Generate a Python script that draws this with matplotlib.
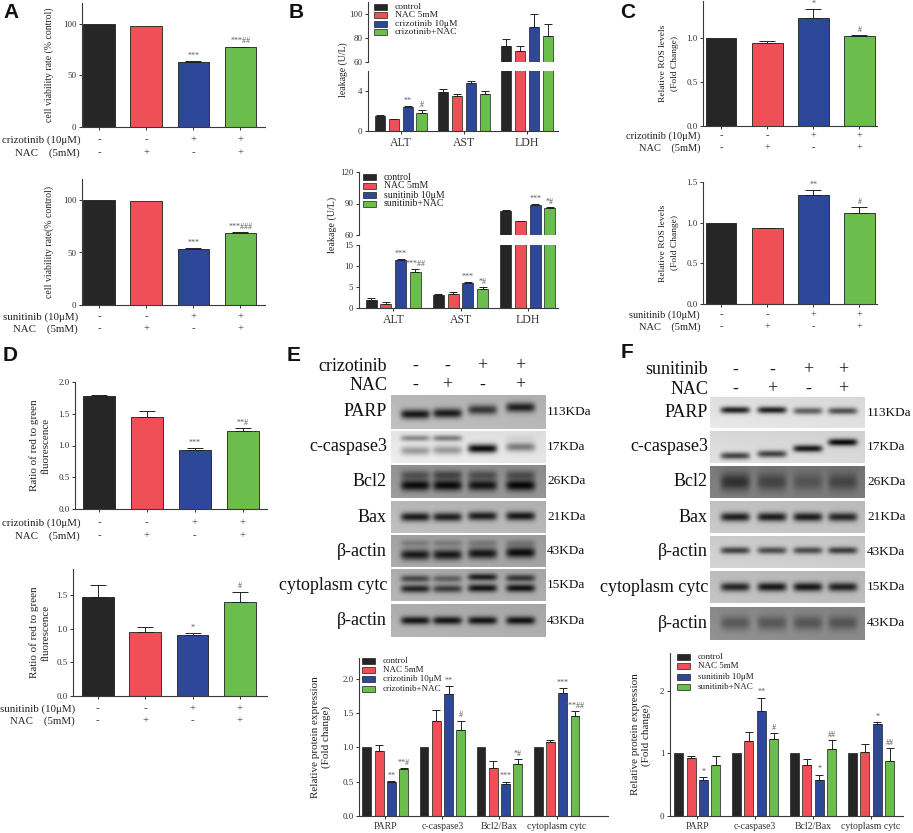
import numpy as np
import matplotlib
matplotlib.use('Agg')
import matplotlib.pyplot as plt
import matplotlib.transforms as mtransforms
from matplotlib.patches import Rectangle

plt.rcParams['font.family'] = ['Liberation Serif', 'DejaVu Serif']

W, H = 913, 833
fig = plt.figure(figsize=(W / 100, H / 100), dpi=100)

# ------------------------------------------------------------------ data
COND_DRUG = ['-', '-', '+', '+']
COND_NAC = ['-', '+', '-', '+']
C4 = ['#262626', '#EF5058', '#2D4898', '#6BBE4B']

# A: cell viability
A_criz_vals = [100, 97.5, 63, 77.5]
A_criz_err = [0, 0, 0.4, 0.4]
A_criz_sig = ['', '', '***', '***##']
A_sun_vals = [100, 99, 53.5, 69]
A_sun_err = [0, 0, 0.4, 0.4]
A_sun_sig = ['', '', '***', '***###']

# B: leakage
B_cats = ['ALT', 'AST', 'LDH']
B_criz_legend = ['control', 'NAC 5mM', 'crizotinib 10μM', 'crizotinib+NAC']
B_criz_ctrl = [1.55, 3.9, 73]
B_criz_ctrl_err = [0.05, 0.35, 6]
B_criz_nac = [1.2, 3.5, 69]
B_criz_nac_err = [0.05, 0.25, 4.5]
B_criz_drug = [2.4, 4.8, 89]
B_criz_drug_err = [0.12, 0.2, 11]
B_criz_combo = [1.85, 3.7, 82]
B_criz_combo_err = [0.25, 0.35, 10]
B_criz_drug_sig = ['**', '', '']
B_criz_combo_sig = ['#', '', '']

B_sun_legend = ['control', 'NAC 5mM', 'sunitinib 10μM', 'sunitinib+NAC']
B_sun_ctrl = [2.0, 3.0, 83]
B_sun_ctrl_err = [0.3, 0.25, 0.5]
B_sun_nac = [1.0, 3.4, 73]
B_sun_nac_err = [0.5, 0.35, 0.5]
B_sun_drug = [11.4, 6.0, 88.5]
B_sun_drug_err = [0.3, 0.15, 0.8]
B_sun_combo = [8.5, 4.6, 86]
B_sun_combo_err = [0.8, 0.4, 0.5]
B_sun_drug_sig = ['***', '***', '***']
B_sun_combo_sig = ['***##', '*#', '*#']

# C: ROS
C_criz_vals = [1.0, 0.94, 1.23, 1.02]
C_criz_err = [0, 0.02, 0.10, 0.01]
C_criz_sig = ['', '', '*', '#']
C_sun_vals = [1.0, 0.93, 1.34, 1.12]
C_sun_err = [0, 0.01, 0.06, 0.07]
C_sun_sig = ['', '', '**', '#']

# D: red/green fluorescence
D_criz_vals = [1.78, 1.45, 0.93, 1.23]
D_criz_err = [0.02, 0.10, 0.03, 0.04]
D_criz_sig = ['', '', '***', '**#']
D_sun_vals = [1.47, 0.95, 0.91, 1.40]
D_sun_err = [0.18, 0.07, 0.03, 0.15]
D_sun_sig = ['', '', '*', '#']

# E / F: protein expression
P_cats = ['PARP', 'c-caspase3', 'Bcl2/Bax', 'cytoplasm cytc']
E_legend = ['control', 'NAC 5mM', 'crizotinib 10μM', 'crizotinib+NAC']
E_ctrl = [1.0, 1.0, 1.0, 1.0]
E_ctrl_err = [0, 0, 0, 0]
E_nac = [0.94, 1.38, 0.70, 1.08]
E_nac_err = [0.09, 0.16, 0.10, 0.02]
E_drug = [0.49, 1.77, 0.46, 1.79]
E_drug_err = [0.02, 0.12, 0.04, 0.07]
E_combo = [0.69, 1.25, 0.76, 1.46]
E_combo_err = [0.01, 0.14, 0.07, 0.07]
E_drug_sig = ['**', '**', '***', '***']
E_combo_sig = ['**#', '#', '*#', '***##']

F_legend = ['control', 'NAC 5mM', 'sunitinib 10μM', 'sunitinib+NAC']
F_ctrl = [1.0, 1.0, 1.0, 1.0]
F_ctrl_err = [0, 0, 0, 0]
F_nac = [0.92, 1.19, 0.81, 1.02]
F_nac_err = [0.04, 0.15, 0.10, 0.13]
F_drug = [0.58, 1.67, 0.58, 1.47]
F_drug_err = [0.04, 0.22, 0.08, 0.03]
F_combo = [0.81, 1.23, 1.07, 0.88]
F_combo_err = [0.15, 0.09, 0.14, 0.20]
F_drug_sig = ['*', '**', '*', '*']
F_combo_sig = ['', '#', '##', '##']

# Western blot rows: label, size, background, band layers (y, amplitudes per lane, sigma)
BLOT_LABELS = ['PARP', 'c-caspase3', 'Bcl2', 'Bax', 'β-actin', 'cytoplasm cytc', 'β-actin']
BLOT_SIZES = ['113KDa', '17KDa', '26KDa', '21KDa', '43KDa', '15KDa', '43KDa']
E_blot_bg = [0.72, 0.90, 0.58, 0.72, 0.64, 0.68, 0.68]
E_blot_bands = [
    [([0.58, 0.55, 0.45, 0.38], [0.64, 0.62, 0.50, 0.58], 0.10)],
    [([0.22, 0.22, 0.22, 0.22], [0.35, 0.40, 0.00, 0.05], 0.07),
     ([0.62, 0.60, 0.55, 0.50], [0.30, 0.30, 0.85, 0.40], 0.10)],
    [([0.30, 0.30, 0.30, 0.30], [0.25, 0.30, 0.25, 0.25], 0.10),
     ([0.62, 0.62, 0.62, 0.62], [0.55, 0.55, 0.50, 0.55], 0.12)],
    [([0.50, 0.50, 0.47, 0.47], [0.62, 0.60, 0.60, 0.62], 0.10)],
    [([0.25, 0.25, 0.25, 0.25], [0.15, 0.15, 0.15, 0.15], 0.08),
     ([0.62, 0.62, 0.58, 0.55], [0.55, 0.55, 0.55, 0.58], 0.12)],
    [([0.30, 0.30, 0.25, 0.28], [0.40, 0.30, 0.55, 0.45], 0.08),
     ([0.62, 0.62, 0.60, 0.60], [0.55, 0.45, 0.60, 0.60], 0.09)],
    [([0.50, 0.50, 0.50, 0.50], [0.60, 0.60, 0.60, 0.60], 0.09)],
]
F_blot_bg = [0.88, 0.85, 0.48, 0.76, 0.80, 0.74, 0.54]
F_blot_bands = [
    [([0.42, 0.42, 0.45, 0.45], [0.75, 0.75, 0.50, 0.55], 0.08)],
    [([0.78, 0.72, 0.55, 0.35], [0.60, 0.60, 0.75, 0.80], 0.08)],
    [([0.50, 0.50, 0.50, 0.50], [0.30, 0.22, 0.15, 0.20], 0.20)],
    [([0.50, 0.50, 0.50, 0.50], [0.65, 0.65, 0.65, 0.60], 0.10)],
    [([0.45, 0.45, 0.45, 0.45], [0.55, 0.50, 0.50, 0.55], 0.08)],
    [([0.50, 0.50, 0.50, 0.50], [0.60, 0.65, 0.65, 0.60], 0.10)],
    [([0.50, 0.50, 0.50, 0.50], [0.20, 0.20, 0.20, 0.20], 0.15)],
]


# ------------------------------------------------------------------ helpers
def ax_px(x0, y0, x1, y1):
    return fig.add_axes([x0 / W, 1 - y1 / H, (x1 - x0) / W, (y1 - y0) / H])


def style(ax, spines=('left', 'bottom'), labelsize=6.5):
    for s in ['top', 'right', 'left', 'bottom']:
        ax.spines[s].set_visible(s in spines)
        ax.spines[s].set_linewidth(0.8)
        ax.spines[s].set_color('#3a3a3a')
    ax.tick_params(direction='out', length=2.5, width=0.7, labelsize=labelsize,
                   colors='#333333', pad=1.5)
    ax.patch.set_alpha(0)


def fy(ypx):
    return 1 - ypx / H


def err_up(ax, x, v, e, cap, lw=0.7):
    if e > 0:
        ax.errorbar([x], [v], yerr=[[0], [e]], fmt='none', ecolor='#222222',
                    elinewidth=lw, capsize=cap, capthick=lw, zorder=3)


def sig_text(ax, x, top, s, fs=5.8):
    if s:
        ax.annotate(s, xy=(x, top), xytext=(0, 1.0), textcoords='offset points',
                    ha='center', va='bottom', fontsize=fs, color='#555555',
                    annotation_clip=False)


def cond_panel(box, vals, errs, sigs, ylim, yticks, yticklabels, xlim,
               ylabel, ylab_x, ylab_fs, ylab_ls, drug_label, rows_y, label_right_x,
               cond_fs=7.8, cap=6):
    ax = ax_px(*box)
    x = np.arange(4)
    ax.bar(x, vals, width=0.67, color=C4, edgecolor='#1e1e1e', linewidth=0.6, zorder=2)
    for i in range(4):
        err_up(ax, x[i], vals[i], errs[i], cap)
        sig_text(ax, x[i], vals[i] + errs[i], sigs[i])
    ax.set_xlim(*xlim)
    ax.set_ylim(*ylim)
    ax.set_yticks(yticks)
    ax.set_yticklabels(yticklabels)
    ax.set_xticks(x)
    ax.set_xticklabels([])
    style(ax)
    tr = mtransforms.blended_transform_factory(ax.transData, fig.transFigure)
    for i in range(4):
        ax.text(x[i], fy(rows_y[0]), COND_DRUG[i], transform=tr, ha='center', va='center',
                fontsize=cond_fs, color='#333333')
        ax.text(x[i], fy(rows_y[1]), COND_NAC[i], transform=tr, ha='center', va='center',
                fontsize=cond_fs, color='#333333')
    fig.text(label_right_x / W, fy(rows_y[0]), drug_label, ha='right', va='center',
             fontsize=cond_fs, color='#222222')
    fig.text(label_right_x / W, fy(rows_y[1]), 'NAC    (5mM)', ha='right', va='center',
             fontsize=cond_fs, color='#222222')
    cy = (box[1] + box[3]) / 2
    fig.text(ylab_x / W, fy(cy), ylabel, rotation=90, ha='center', va='center',
             fontsize=ylab_fs, color='#222222', multialignment='center', linespacing=ylab_ls)
    return ax


def manual_legend(x_patch, y_rows, labels, fs, pw=13, ph=5.5, gap=8):
    for k, lab in enumerate(labels):
        y = y_rows[k]
        fig.patches.append(Rectangle((x_patch / W, fy(y + ph / 2)), pw / W, ph / H,
                                     transform=fig.transFigure, facecolor=C4[k],
                                     edgecolor='#1e1e1e', linewidth=0.5))
        fig.text((x_patch + pw + gap) / W, fy(y), lab, ha='left', va='center',
                 fontsize=fs, color='#222222')


def broken_panel(x0, x1, up_y, lo_y, up_lim, lo_lim, up_ticks, lo_ticks,
                 series, errs, sigs, xlim, ylabel, ylab_xy, ylab_fs, cat_fs):
    axu = ax_px(x0, up_y[0], x1, up_y[1])
    axl = ax_px(x0, lo_y[0], x1, lo_y[1])
    xc = np.arange(len(B_cats))
    offs = (np.arange(4) - 1.5) * 0.22
    for ax in (axu, axl):
        for k in range(4):
            ax.bar(xc + offs[k], series[k], width=0.165, color=C4[k],
                   edgecolor='#1e1e1e', linewidth=0.5, zorder=2)
            for j in range(len(xc)):
                err_up(ax, xc[j] + offs[k], series[k][j], errs[k][j], 3.2)
        ax.set_xlim(*xlim)
    for k in range(4):
        for j in range(len(xc)):
            s = sigs[k][j]
            top = series[k][j] + errs[k][j]
            sig_text(axu if top > lo_lim[1] else axl, xc[j] + offs[k], top, s)
    axu.set_ylim(*up_lim)
    axl.set_ylim(*lo_lim)
    axu.set_yticks(up_ticks)
    axl.set_yticks(lo_ticks)
    axu.set_xticks([])
    axl.set_xticks(xc)
    axl.set_xticklabels(B_cats)
    style(axu, spines=('left',))
    style(axl)
    axl.tick_params(axis='x', labelsize=cat_fs, pad=2)
    fig.text(ylab_xy[0] / W, fy(ylab_xy[1]), ylabel, rotation=90, ha='center',
             va='center', fontsize=ylab_fs, color='#222222')
    return axu, axl


def group_panel(box, series, errs, sigs, ylim, yticks, yticklabels, xlim, ylab_x):
    ax = ax_px(*box)
    xc = np.arange(len(P_cats))
    offs = (np.arange(4) - 1.5) * 0.215
    for k in range(4):
        ax.bar(xc + offs[k], series[k], width=0.155, color=C4[k],
               edgecolor='#1e1e1e', linewidth=0.5, zorder=2)
        for j in range(len(xc)):
            err_up(ax, xc[j] + offs[k], series[k][j], errs[k][j], 2.8)
            if sigs[k] is not None:
                sig_text(ax, xc[j] + offs[k], series[k][j] + errs[k][j], sigs[k][j])
    ax.set_xlim(*xlim)
    ax.set_ylim(*ylim)
    ax.set_yticks(yticks)
    ax.set_yticklabels(yticklabels)
    ax.set_xticks(xc)
    ax.set_xticklabels(P_cats)
    style(ax)
    ax.tick_params(axis='x', labelsize=7, pad=1.5)
    cy = (box[1] + box[3]) / 2
    fig.text(ylab_x / W, fy(cy), 'Relative protein expression\n(Fold change)',
             rotation=90, ha='center', va='center', fontsize=8, color='#222222',
             multialignment='center', linespacing=1.25)
    return ax


def blot_row(x0, x1, y0, y1, lanes_px, bg, layers, hw=0.095):
    ax = ax_px(x0, y0, x1, y1)
    h, w = 60, 220
    yy, xx = np.mgrid[0:1:h * 1j, 0:1:w * 1j]
    img = np.full((h, w), bg) + 0.04 * (yy - 0.5) - 0.03 * (xx - 0.5)
    lane_fr = [(lx - x0) / (x1 - x0) for lx in lanes_px]
    for ypos, amps, sig in layers:
        for i, lf in enumerate(lane_fr):
            px = np.exp(-((xx - lf) / hw) ** 6)
            py = np.exp(-0.5 * ((yy - ypos[i]) / sig) ** 2)
            img = img - amps[i] * px * py
    img = np.clip(img, 0, 1)
    ax.imshow(img, cmap='gray', vmin=0, vmax=1, aspect='auto', extent=[0, 1, 1, 0],
              interpolation='bilinear')
    ax.set_xticks([])
    ax.set_yticks([])
    for s in ax.spines.values():
        s.set_visible(False)
    return ax


def blot_panel(x0, x1, rows_y, lanes_px, bgs, bands, drug, drug_y, nac_y, label_right, size_x):
    for r in range(len(rows_y)):
        y0, y1 = rows_y[r]
        blot_row(x0, x1, y0, y1, lanes_px, bgs[r], bands[r])
        cy = (y0 + y1) / 2
        fig.text(label_right / W, fy(cy), BLOT_LABELS[r], ha='right', va='center',
                 fontsize=13, color='#111111')
        fig.text(size_x / W, fy(cy), BLOT_SIZES[r], ha='left', va='center',
                 fontsize=9.5, color='#111111')
    fig.text(label_right / W, fy(drug_y), drug, ha='right', va='center', fontsize=13,
             color='#111111')
    fig.text(label_right / W, fy(nac_y), 'NAC', ha='right', va='center', fontsize=13,
             color='#111111')
    for i, lx in enumerate(lanes_px):
        fig.text(lx / W, fy(drug_y), COND_DRUG[i], ha='center', va='center', fontsize=13,
                 color='#111111')
        fig.text(lx / W, fy(nac_y), COND_NAC[i], ha='center', va='center', fontsize=13,
                 color='#111111')


# ------------------------------------------------------------------ panel A
cond_panel((82, 3, 265, 127), A_criz_vals, A_criz_err, A_criz_sig, (0, 120),
           [0, 50, 100], ['0', '50', '100'], (-0.36, 3.52),
           'cell viability rate (% control)', 49, 7, 1.2,
           'crizotinib (10μM)', (140, 153), 80)
cond_panel((82, 179, 265, 305), A_sun_vals, A_sun_err, A_sun_sig, (0, 120),
           [0, 50, 100], ['0', '50', '100'], (-0.36, 3.52),
           'cell viability rate(% control)', 49, 7, 1.2,
           'sunitinib (10μM)', (317, 329), 78)

# ------------------------------------------------------------------ panel B
broken_panel(368, 558, (2, 62), (71, 131), (60, 110), (0, 6), [60, 80, 100], [0, 4],
             [B_criz_ctrl, B_criz_nac, B_criz_drug, B_criz_combo],
             [B_criz_ctrl_err, B_criz_nac_err, B_criz_drug_err, B_criz_combo_err],
             [['', '', ''], ['', '', ''], B_criz_drug_sig, B_criz_combo_sig],
             (-0.52, 2.49), 'leakage (U/L)', (343, 70), 7, 8.5)
manual_legend(374, [7, 15, 24, 32], B_criz_legend, 6.8)

broken_panel(359, 558, (172, 235), (245, 308), (60, 120), (0, 15), [60, 90, 120],
             [0, 5, 10, 15],
             [B_sun_ctrl, B_sun_nac, B_sun_drug, B_sun_combo],
             [B_sun_ctrl_err, B_sun_nac_err, B_sun_drug_err, B_sun_combo_err],
             [['', '', ''], ['', '', ''], B_sun_drug_sig, B_sun_combo_sig],
             (-0.51, 2.45), 'leakage (U/L)', (332, 225), 7.2, 8.5)
manual_legend(363, [177, 186, 195, 204], B_sun_legend, 7)

# ------------------------------------------------------------------ panel C
cond_panel((703, 1, 877, 126), C_criz_vals, C_criz_err, C_criz_sig, (0, 1.42),
           [0, 0.5, 1.0], ['0.0', '0.5', '1.0'], (-0.39, 3.38),
           'Relative ROS levels\n(Fold Change)', 669, 6.8, 1.8,
           'crizotinib (10μM)', (136, 148), 700, cond_fs=7.5)
cond_panel((703, 182, 877, 304), C_sun_vals, C_sun_err, C_sun_sig, (0, 1.5),
           [0, 0.5, 1.0, 1.5], ['0.0', '0.5', '1.0', '1.5'], (-0.39, 3.38),
           'Relative ROS levels\n(Fold Change)', 669, 6.8, 1.8,
           'sunitinib (10μM)', (315, 327), 700, cond_fs=7.5)

# ------------------------------------------------------------------ panel D
cond_panel((75, 382, 267, 509), D_criz_vals, D_criz_err, D_criz_sig, (0, 2.0),
           [0, 0.5, 1.0, 1.5, 2.0], ['0.0', '0.5', '1.0', '1.5', '2.0'], (-0.5, 3.51),
           'Ratio of red to green\nfluorescence', 40, 8, 1.25,
           'crizotinib (10μM)', (523, 536), 80)
cond_panel((73, 569, 267, 696), D_sun_vals, D_sun_err, D_sun_sig, (0, 1.89),
           [0, 0.5, 1.0, 1.5], ['0.0', '0.5', '1.0', '1.5'], (-0.52, 3.57),
           'Ratio of red to green\nfluorescence', 40, 8, 1.25,
           'sunitinib (10μM)', (709, 721), 75)

# ------------------------------------------------------------------ panel E
E_rows = [(395, 429), (431, 463), (465, 498), (501, 533), (535, 567), (569, 601), (604, 637)]
blot_panel(391, 545, E_rows, [415, 447, 482, 520], E_blot_bg, E_blot_bands,
           'crizotinib', 366, 385, 387, 547)
group_panel((359, 658, 608, 816), [E_ctrl, E_nac, E_drug, E_combo],
            [E_ctrl_err, E_nac_err, E_drug_err, E_combo_err],
            [None, None, E_drug_sig, E_combo_sig], (0, 2.3),
            [0, 0.5, 1.0, 1.5, 2.0], ['0.0', '0.5', '1.0', '1.5', '2.0'],
            (-0.46, 3.9), 321)
manual_legend(362, [661, 670, 679, 689], E_legend, 6.5)

# ------------------------------------------------------------------ panel F
F_rows = [(397, 428), (431, 463), (466, 498), (501, 533), (536, 568), (571, 603), (607, 640)]
blot_panel(710, 865, F_rows, [735, 772, 808, 843], F_blot_bg, F_blot_bands,
           'sunitinib', 370, 389, 708, 867)
group_panel((670, 653, 903, 816), [F_ctrl, F_nac, F_drug, F_combo],
            [F_ctrl_err, F_nac_err, F_drug_err, F_combo_err],
            [None, None, F_drug_sig, F_combo_sig], (0, 2.6),
            [0, 1, 2], ['0', '1', '2'], (-0.47, 3.55), 641)
manual_legend(677, [657, 666, 677, 687], F_legend, 6.5)

# ------------------------------------------------------------------ panel letters
for letter, (x, y) in {'A': (3, 3), 'B': (289, 3), 'C': (620, 3),
                       'D': (3, 346), 'E': (287, 346), 'F': (621, 343)}.items():
    fig.text(x / W, fy(y), letter, ha='left', va='top', fontsize=15, fontweight='bold',
             family=['Liberation Sans', 'DejaVu Sans'], color='#111111')

fig.savefig('out.png', dpi=100)
